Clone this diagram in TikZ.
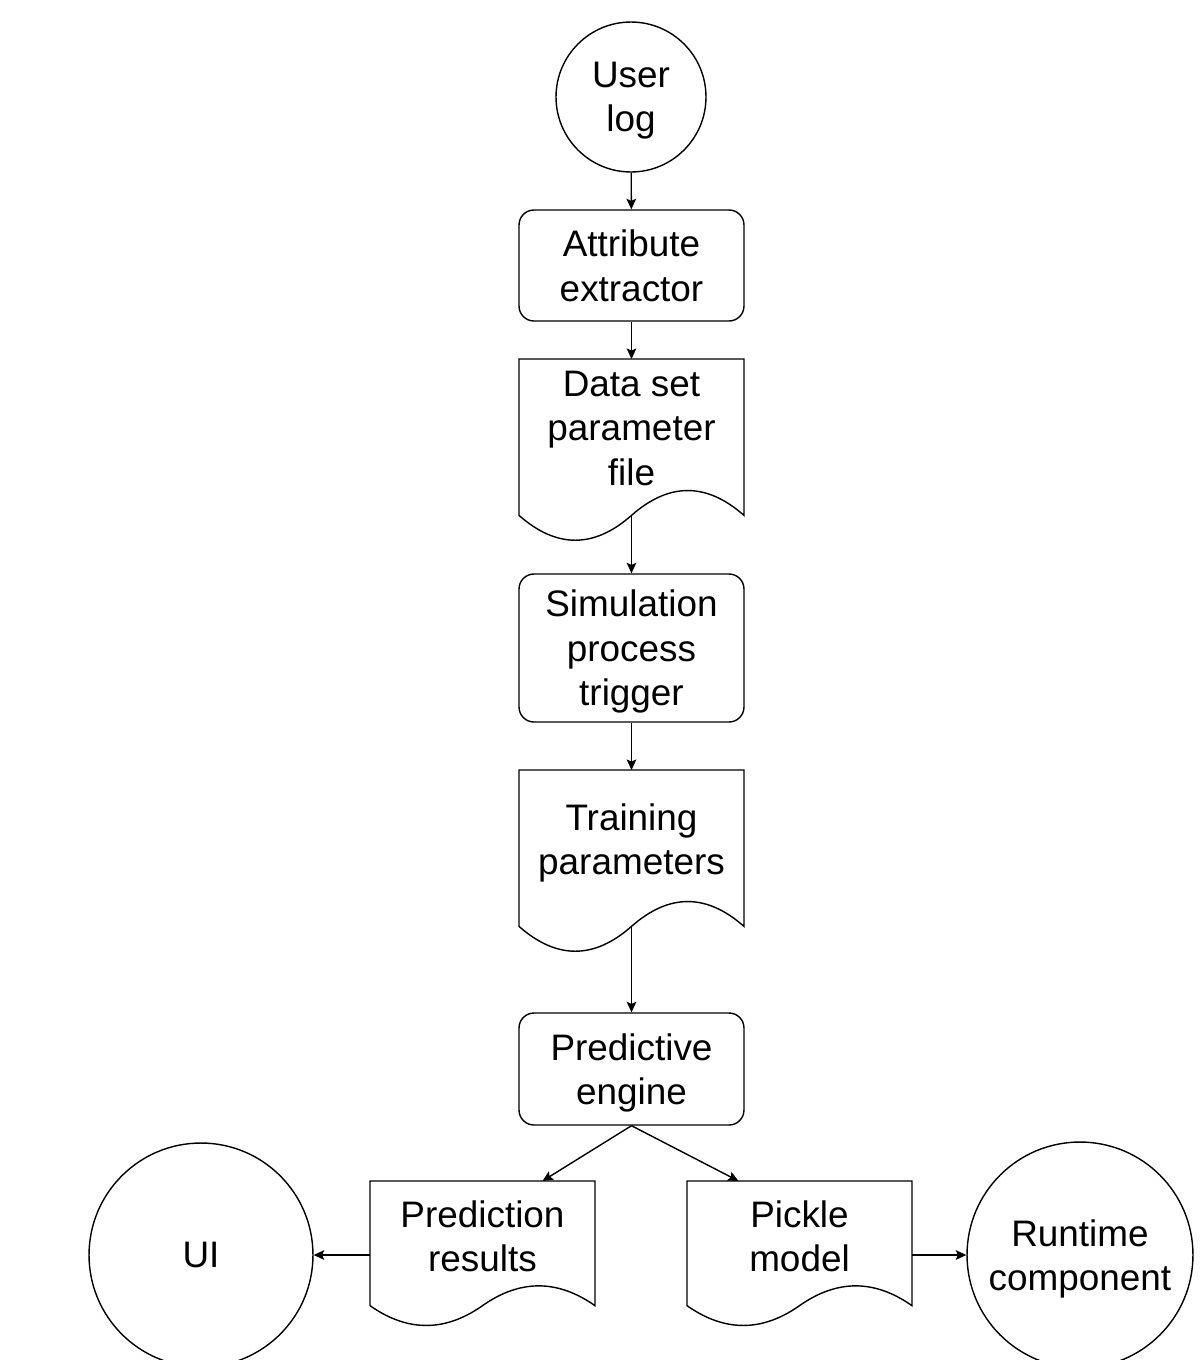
\documentclass[tikz,border=0pt]{standalone}
\usepackage{fontspec}
\setmainfont{Liberation Sans}
\usetikzlibrary{
  arrows.meta,
  calc,
}
\tikzset{
  >={Stealth[length=6pt, width=5.5pt, inset=1.2pt]},
  every picture/.style={line width=0.8pt},
  label text/.style={align=center, text depth=0pt,
    font=\fontsize{21}{25.3}\selectfont},
  proc/.style={draw, rounded corners=8.5pt, minimum width=4.5cm, inner sep=0pt,
    label text},
  term/.style={draw, circle, inner sep=0pt, label text},
  docbox/.style={minimum width=4.5cm, inner sep=0pt, outer sep=0pt, label text},
}
% outline of a document: top part is the node, the wave hangs below it
\newcommand{\docoutline}[1]{%
  \draw let \p1=(#1.north west), \p2=(#1.south east),
    \n1={\x2-\x1}, \n2={\y1-\y2} in
    (\p1) -- (\x2,\y1) -- (\x2,{\y1-1.1333*\n2})
    .. controls ({\x1+0.8333*\n1},{\y1-0.8933*\n2}) and ({\x1+0.6667*\n1},{\y1-0.8933*\n2})
    .. ({\x1+0.5*\n1},{\y1-1.1333*\n2}) coordinate (#1-w)
    .. controls ({\x1+0.3333*\n1},{\y1-1.3733*\n2}) and ({\x1+0.1667*\n1},{\y1-1.3733*\n2})
    .. (\x1,{\y1-1.1333*\n2}) -- cycle;}

\begin{document}
\begin{tikzpicture}[x=0.02cm, y=-0.02cm]
  \useasboundingbox [fill=white] (0, 0) rectangle (1203, 1360);

  \node [term, minimum size=3cm] (userlog) at (631, 97) {User\\log};
  \node [proc, minimum height=2.22cm] (attrib) at (631.5, 265.5) {Attribute\\extractor};
  \node [docbox, minimum height=2.76cm] (dataset) at (631.5, 428) {Data set\\parameter\\file};
  \docoutline{dataset}
  \node [proc, minimum height=2.96cm] (sim) at (631.5, 648) {Simulation\\process\\trigger};
  \node [docbox, minimum height=2.76cm] (training) at (631.5, 839) {Training\\parameters};
  \docoutline{training}
  \node [proc, minimum height=2.24cm] (predictive) at (631.5, 1069) {Predictive\\engine};
  \node [docbox, minimum height=2.2cm] (predres) at (482.5, 1236) {Prediction\\results};
  \docoutline{predres}
  \node [docbox, minimum height=2.2cm] (pickle) at (799.5, 1236) {Pickle\\model};
  \docoutline{pickle}
  \node [term, minimum size=4.48cm] (ui) at (201, 1255) {UI};
  \node [term, minimum size=4.52cm] (runtime) at (1080, 1255) {Runtime\\component};

  \draw [->] (userlog) -- (attrib);
  \draw [->] (attrib) -- (dataset.north);
  \draw [->] (dataset-w) -- (sim);
  \draw [->] (sim) -- (training.north);
  \draw [->] (training-w) -- (predictive);
  \draw [->] (predictive.south) -- ($(predres.north)!0.533!(predres.north east)$);
  \draw [->] (predictive.south) -- ($(pickle.north)!0.542!(pickle.north west)$);
  \draw [->] (predres.west |- ui.east) -- (ui.east);
  \draw [->] (pickle.east |- runtime.west) -- (runtime.west);
\end{tikzpicture}
\end{document}
